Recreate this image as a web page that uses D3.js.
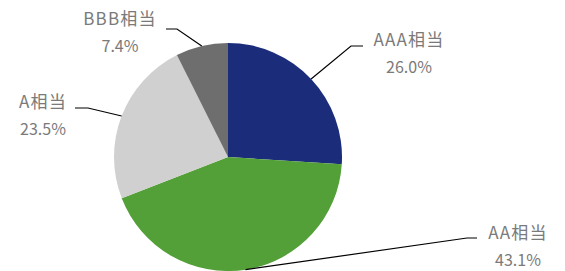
<!DOCTYPE html>
<html>
<head>
<meta charset="utf-8">
<script src="https://cdn.jsdelivr.net/npm/d3@7"></script>
<style>
  body { margin: 0; background: #fff; }
  svg text { font-family: "Noto Sans CJK JP", "Noto Sans", sans-serif; fill: #7a7a7a; }
</style>
</head>
<body>
<svg id="chart" width="565" height="271"></svg>
<script>
const categories = ["AAA相当", "AA相当", "A相当", "BBB相当"];
const shares = [26.0, 43.1, 23.5, 7.4];
const colors = ["#1b2d7a", "#52a037", "#d0d0d0", "#6e6e6e"];

// leader line elbow and label centre, hand placed like the original
const elbows = [[351, 46], [467, 238], [88, 108], [177, 29]];
const ends = [[363, 46], [477, 238], [75, 108], [166, 29]];
const labelPos = [[409, 46], [518, 239], [43, 108], [120, 25]];

const svg = d3.select("#chart");
const cx = 228, cy = 157, r = 114;

const pie = d3.pie().sort(null).value(d => d)(shares);
const arc = d3.arc().innerRadius(0).outerRadius(r);

const g = svg.append("g").attr("transform", `translate(${cx},${cy})`);

g.selectAll("path")
	.data(pie)
	.enter()
	.append("path")
	.attr("fill", (d, i) => colors[i])
	.attr("d", arc);

// leader lines from the middle of each arc
svg.selectAll("polyline")
	.data(pie)
	.enter()
	.append("polyline")
	.attr("fill", "none")
	.attr("stroke", "#000")
	.attr("stroke-width", 1.2)
	.attr("points", (d, i) => {
		const a = (d.startAngle + d.endAngle) / 2;
		const p = [cx + r * Math.sin(a), cy - r * Math.cos(a)];
		return [p, elbows[i], ends[i]].map(q => q.join(",")).join(" ");
	});

const labels = svg.selectAll("text.lbl")
	.data(pie)
	.enter()
	.append("text")
	.attr("class", "lbl")
	.attr("text-anchor", "middle");

labels.append("tspan")
	.attr("x", (d, i) => labelPos[i][0])
	.attr("y", (d, i) => labelPos[i][1])
	.attr("font-size", 17)
	.attr("letter-spacing", 1.2)
	.text((d, i) => categories[i]);

labels.append("tspan")
	.attr("x", (d, i) => labelPos[i][0])
	.attr("y", (d, i) => labelPos[i][1] + 27)
	.attr("font-size", 16)
	.text(d => d.data.toFixed(1) + "%");
</script>
</body>
</html>
